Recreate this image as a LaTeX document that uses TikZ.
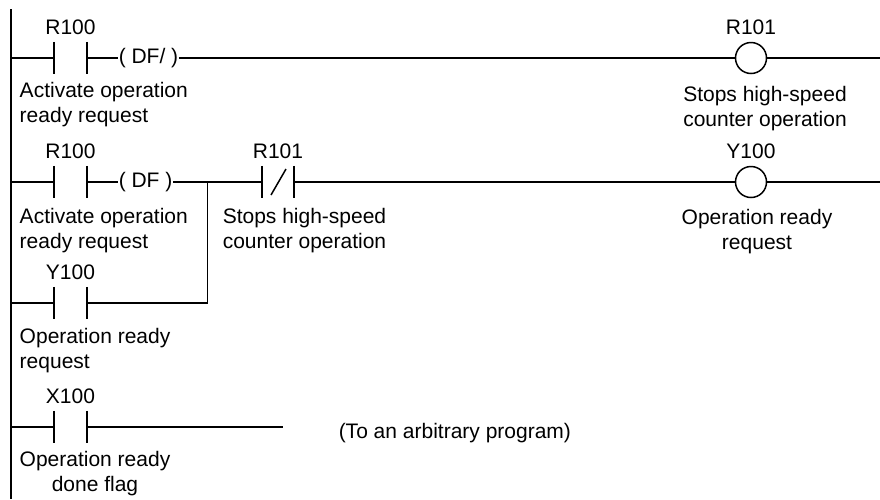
\documentclass[tikz,border=0pt]{standalone}
\usepackage{fontspec}
\setmainfont{Liberation Sans}
\usetikzlibrary{positioning}

\begin{document}
\begin{tikzpicture}[x=1pt,y=-1pt,line width=1.5pt,
    font=\fontsize{21}{25}\selectfont,inner sep=0pt,node distance=6pt,
    contact/.style={minimum width=31pt,minimum height=31pt},
    coil/.style={circle,draw,minimum size=31pt},
    bar/.style={line width=2.4pt}]
   \useasboundingbox (0,0) rectangle (880,499);
   \coordinate (top) at (11,9);
   \coordinate (bot) at (11,499);
   \draw (top) -- (bot);
   % rung 1
   \node[contact] (c1) at (70.5,58) {};
   \node (df1) [anchor=west] at (118,58) {( DF/ )};
   \node[coil] (q1) at (751,58) {};
   \coordinate (e1) at (880,58);
   \node (c1l) [above=of c1] {R100};
   \node (q1l) [above=of q1] {R101};
   \node[align=left,anchor=north west] (c1t) at (19,82) {Activate operation\\ready request};
   \node[align=center,anchor=north] (q1t) at (765,86) {Stops high-speed\\counter operation};
   \draw (top |- c1) -- (c1.west) (c1.east) -- (df1.west)
         (df1.east) -- (q1.west) (q1.east) -- (e1);
   % rung 2
   \node[contact] (c2) at (70.5,182) {};
   \node (df2) [anchor=west] at (118,182) {( DF )};
   \coordinate (j) at (207.5,182);
   \node[contact] (nc) at (278,182) {};
   \node[coil] (q2) at (751,182) {};
   \coordinate (e2) at (880,182);
   \node (c2l) [above=of c2] {R100};
   \node (ncl) [above=of nc] {R101};
   \node (q2l) [above=of q2] {Y100};
   \node[align=left,anchor=north west] (c2t) at (19,208) {Activate operation\\ready request};
   \node[align=left,anchor=north west] (nct) at (222,208) {Stops high-speed\\counter operation};
   \node[align=center,anchor=north] (q2t) at (757,209) {Operation ready\\request};
   \draw (top |- c2) -- (c2.west) (c2.east) -- (df2.west)
         (df2.east) -- (j) -- (nc.west) (nc.east) -- (q2.west) (q2.east) -- (e2);
   % branch
   \node[contact] (c3) at (70.5,303) {};
   \node (c3l) [above=of c3] {Y100};
   \node[align=left,anchor=north west] (c3t) at (19,328) {Operation ready\\request};
   \draw (top |- c3) -- (c3.west) (c3.east) -- (j |- c3) -- (j);
   % rung 3
   \node[contact] (c4) at (70.5,427) {};
   \coordinate (e4) at (283,427);
   \node (c4l) [above=of c4] {X100};
   \node[align=center,anchor=north] (c4t) at (95,451) {Operation ready\\done flag};
   \node (prog) [anchor=base west] at (338,438) {(To an arbitrary program)};
   \draw (top |- c4) -- (c4.west) (c4.east) -- (e4);
   % contact bars
   \foreach \c in {c1,c2,c3,c4,nc}
      \draw[bar] (\c.north west) -- (\c.south west) (\c.north east) -- (\c.south east);
   \draw ([shift={(-7,13)}]nc.center) -- ([shift={(8,-13)}]nc.center);
\end{tikzpicture}
\end{document}
